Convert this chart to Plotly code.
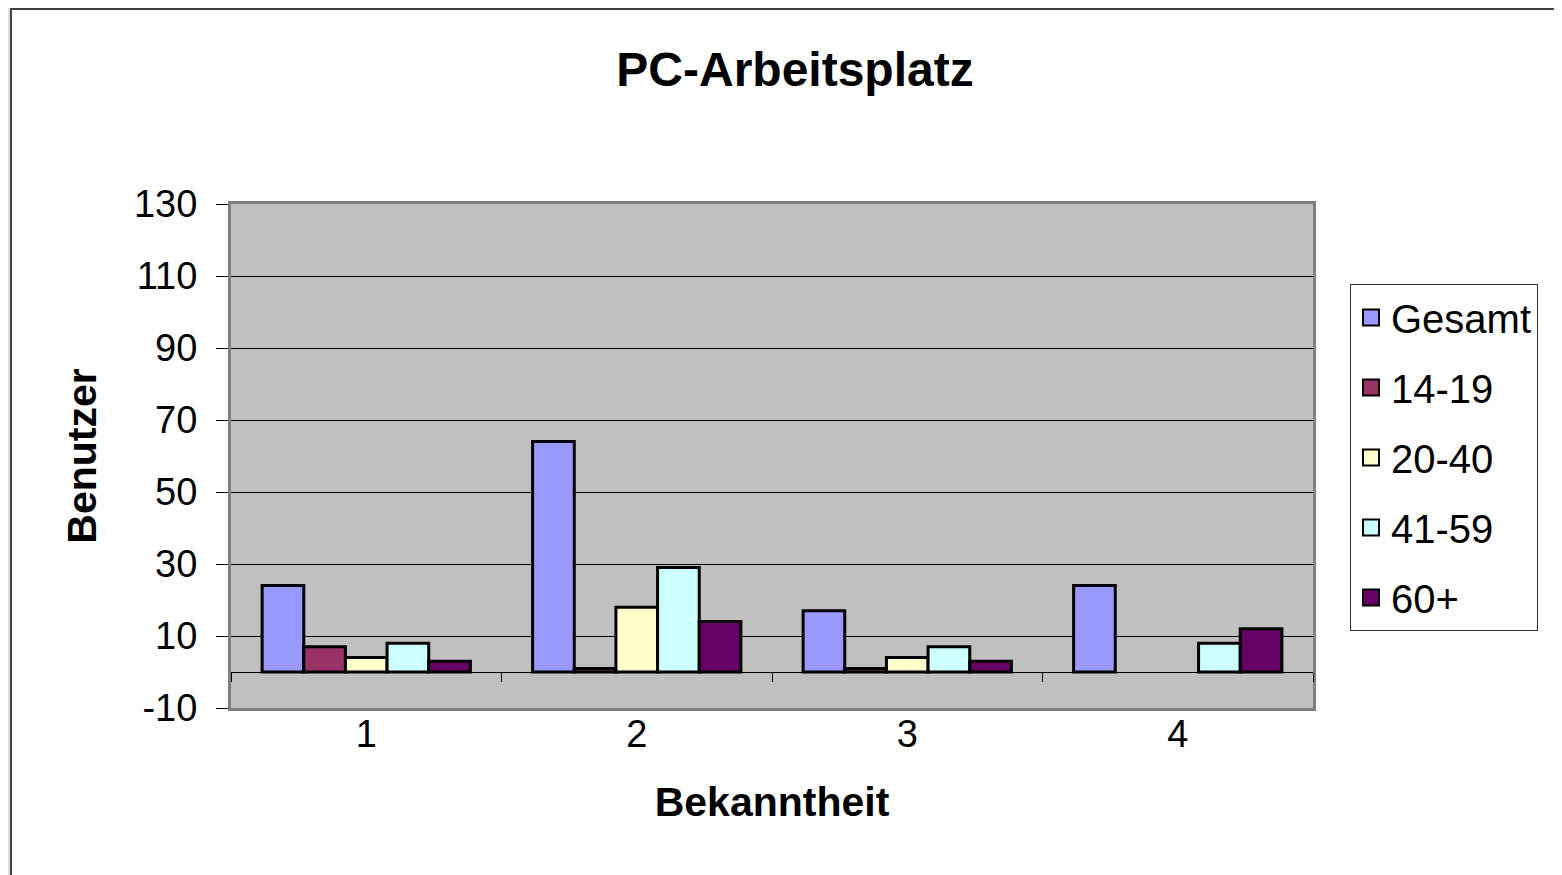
import plotly.graph_objects as go

# Werte
bekanntheit = ["1", "2", "3", "4"]
gesamt = [24, 64, 17, 24]
alter_14_19 = [7, 1, 1, None]
alter_20_40 = [4, 18, 4, None]
alter_41_59 = [8, 29, 7, 8]
alter_60_plus = [3, 14, 3, 12]

serien = ["Gesamt", "14-19", "20-40", "41-59", "60+"]
werte = [gesamt, alter_14_19, alter_20_40, alter_41_59, alter_60_plus]
farben = ["#9999FF", "#993366", "#FFFFCC", "#CCFFFF", "#660066"]

y_ticks = [-10, 10, 30, 50, 70, 90, 110, 130]
y_min, y_max = -10, 130

# Seite hat 8px Rand im Browser
OFF = 8
SW, SH = 1562, 875
W, H = SW - OFF, SH - OFF
px_l, px_r, px_t, px_b = 231, 1313, 204, 708   # Plotbereich in Bildschirm-Pixeln
L, T = px_l - OFF, px_t - OFF
R, B = SW - px_r, SH - px_b
pw, ph = px_r - px_l, px_b - px_t


def px_x(p):
    return (p - px_l) / pw


def px_y(p):
    return (px_b - p) / ph


schrift = "Liberation Sans, Arial, sans-serif"

fig = go.Figure()
for name, w, f in zip(serien, werte, farben):
    fig.add_trace(go.Bar(
        x=bekanntheit, y=w, name=name, showlegend=False,
        marker=dict(color=f, line=dict(color="black", width=3)),
    ))

# Legendeneintraege mit groesseren Quadraten
for name, f in zip(serien, farben):
    fig.add_trace(go.Scatter(
        x=[None], y=[None], name=name, mode="markers", legendgroup=name,
        marker=dict(symbol="square", size=22, color=f,
                    line=dict(color="black", width=2)),
    ))

# unsichtbare Spur fuer die Kategorie-Achse an der Nulllinie
fig.add_trace(go.Scatter(x=bekanntheit, y=[None] * 4, xaxis="x2",
                         showlegend=False, hoverinfo="skip"))

fig.update_layout(
    width=W, height=H,
    margin=dict(l=L, r=R, t=T, b=B, autoexpand=False),
    paper_bgcolor="white",
    plot_bgcolor="#C0C0C0",
    font=dict(family=schrift, color="black", size=38),
    barmode="group",
    bargap=0.23,
    bargroupgap=0,
    title=dict(text="<b>PC-Arbeitsplatz</b>", x=(795 - OFF) / W, xanchor="center",
               y=1 - (69 - OFF) / H, yanchor="middle",
               font=dict(size=48, family=schrift)),
    xaxis=dict(
        type="category", categoryarray=bekanntheit, range=[-0.5, 3.5],
        showline=True, mirror=True, linecolor="#808080", linewidth=3,
        ticks="", showgrid=False,
        tickfont=dict(size=38), ticklabelstandoff=-10,
        title=dict(text="<b>Bekanntheit</b>", font=dict(size=41), standoff=34),
    ),
    xaxis2=dict(
        type="category", categoryarray=bekanntheit, range=[-0.5, 3.5],
        overlaying="x", anchor="free",
        position=(0 - y_min) / (y_max - y_min),
        ticks="outside", tickson="boundaries", ticklen=9, tickwidth=1,
        tickcolor="black", showticklabels=False, showgrid=False,
        showline=False, zeroline=False,
    ),
    yaxis=dict(
        range=[y_min, y_max], tickvals=y_ticks,
        ticktext=[str(v) for v in y_ticks],
        showline=True, mirror=True, linecolor="#808080", linewidth=3,
        ticks="outside", ticklen=12, tickcolor="black", tickwidth=1,
        ticklabelstandoff=11,
        showgrid=True, gridcolor="black", gridwidth=1,
        zeroline=True, zerolinecolor="black", zerolinewidth=1,
        tickfont=dict(size=38),
        title=dict(text="<b>Benutzer</b>", font=dict(size=41), standoff=25),
    ),
    legend=dict(
        x=px_x(1350), y=px_y(284), xanchor="left", yanchor="top",
        bgcolor="white", bordercolor="#333333", borderwidth=1,
        font=dict(size=40), tracegroupgap=15,
        traceorder="grouped", itemsizing="trace",
        entrywidth=190, entrywidthmode="pixels",
    ),
    shapes=[
        dict(type="rect", xref="paper", yref="paper",
             x0=px_x(0), x1=px_x(10), y0=px_y(SH), y1=px_y(0),
             fillcolor="#DDDDDD", line=dict(width=0), layer="below"),
        dict(type="line", xref="paper", yref="paper",
             x0=px_x(11), x1=px_x(11), y0=px_y(SH), y1=px_y(9),
             line=dict(color="#404040", width=2)),
        dict(type="line", xref="paper", yref="paper",
             x0=px_x(10), x1=px_x(SW), y0=px_y(9), y1=px_y(9),
             line=dict(color="#404040", width=2)),
    ],
)

fig.write_html("out.html")
